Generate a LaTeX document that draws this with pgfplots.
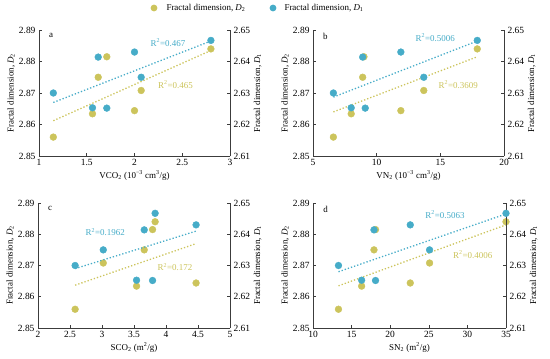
\documentclass[border=0pt]{standalone}
\usepackage{pgfplots}
\pgfplotsset{compat=1.18}
\usepackage{fontspec}
\setmainfont{Liberation Serif}
\definecolor{cY}{RGB}{204,196,92}
\definecolor{cB}{RGB}{70,172,200}
\definecolor{axg}{RGB}{60,60,60}
\tikzset{lab/.style={font=\fontsize{9}{10}\selectfont}}
\pgfplotsset{
  base/.style={
    scale only axis, width=191bp, height=126bp, anchor=north west,
    tick align=inside, major tick length=3bp,
    every tick/.style={axg, line width=0.6pt},
    axis line style={axg, line width=0.7pt},
    tick label style={font=\fontsize{9.5}{10}\selectfont},
    label style={font=\fontsize{9}{10}\selectfont},
    /pgf/number format/assume math mode=true,
    ymin=2.85, ymax=2.89, ytick={2.85,2.86,2.87,2.88,2.89},
    yticklabel style={/pgf/number format/.cd, fixed, precision=2, fixed zerofill},
    clip=false,
  },
  leftax/.style={base, axis y line*=left, axis x line*=bottom,
    ylabel={Fractal dimension, \textit{D}\textsubscript{2}},
    ylabel shift=-3bp,
    xlabel style={yshift=2bp},
  },
  rightax/.style={base, axis y line*=right, axis x line=none,
    ymin=2.61, ymax=2.65, ytick={2.61,2.62,2.63,2.64,2.65},
    ylabel={Fractal dimension, \textit{D}\textsubscript{1}},
    ylabel shift=-3bp,
  },
  ptY/.style={only marks, color=cY, mark=*, mark size=3.4bp},
  ptB/.style={only marks, color=cB, mark=*, mark size=3.4bp},
  lnY/.style={no marks, cY, line width=1.3pt, dotted},
  lnB/.style={no marks, cB, line width=1.3pt, dotted},
}
\begin{document}
\begin{tikzpicture}
\path[use as bounding box] (0,0) rectangle (550bp,-359bp);
% legend
\fill[cY] (154bp,-8bp) circle (3.4bp);
\node[anchor=west, font=\fontsize{9}{10}\selectfont] at (163bp,-8bp) {Fractal dimension, \textit{D}\textsubscript{2}};
\fill[cB] (273bp,-8bp) circle (3.4bp);
\node[anchor=west, font=\fontsize{9}{10}\selectfont] at (281bp,-8bp) {Fractal dimension, \textit{D}\textsubscript{1}};

% ---------- panel a ----------
\begin{axis}[leftax, at={(39bp,-30bp)}, xmin=1, xmax=3, xtick={1,1.5,2,2.5,3},
  xlabel={VCO\textsubscript{2} (10\textsuperscript{−3} cm\textsuperscript{3}/g)}]
\addplot[lnY] coordinates {(1.15,2.8612) (2.8,2.8835)};
\addplot[ptY] coordinates {(1.15,2.856) (1.56,2.8634) (1.62,2.875) (1.71,2.8815) (2.0,2.8644) (2.07,2.8708) (2.8,2.884)};
\node[lab, text=cY] at (axis cs:2.43,2.8727) {R\textsuperscript{2}=0.465};
\node[lab, anchor=north west] at (rel axis cs:0.035,1.0) {a};
\end{axis}
\begin{axis}[rightax, at={(39bp,-30bp)}, xmin=1, xmax=3]
\addplot[lnB] coordinates {(1.15,2.6270) (2.8,2.6465)};
\addplot[ptB] coordinates {(1.15,2.630) (1.56,2.6253) (1.62,2.6414) (1.71,2.6252) (2.0,2.643) (2.07,2.635) (2.8,2.6467)};
\node[lab, text=cB] at (axis cs:2.35,2.6459) {R\textsuperscript{2}=0.467};
\end{axis}

% ---------- panel b ----------
\begin{axis}[leftax, at={(313bp,-30bp)}, xmin=5, xmax=20, xtick={5,10,15,20},
  xlabel={VN\textsubscript{2} (10\textsuperscript{−3} cm\textsuperscript{3}/g)}]
\addplot[lnY] coordinates {(6.6,2.8640) (17.9,2.8815)};
\addplot[ptY] coordinates {(6.6,2.856) (8.0,2.8634) (8.9,2.875) (9.0,2.8815) (11.9,2.8644) (13.7,2.8708) (17.9,2.884)};
\node[lab, text=cY] at (axis cs:16.4,2.8726) {R\textsuperscript{2}=0.3609};
\node[lab, anchor=north west] at (rel axis cs:0.035,1.0) {b};
\end{axis}
\begin{axis}[rightax, at={(313bp,-30bp)}, xmin=5, xmax=20]
\addplot[lnB] coordinates {(6.6,2.6287) (17.9,2.6465)};
\addplot[ptB] coordinates {(6.6,2.630) (8.0,2.6253) (8.9,2.6414) (9.1,2.6252) (11.9,2.643) (13.7,2.635) (17.9,2.6467)};
\node[lab, text=cB] at (axis cs:14.6,2.6475) {R\textsuperscript{2}=0.5006};
\end{axis}

% ---------- panel c ----------
\begin{axis}[leftax, at={(38bp,-203bp)}, width=192bp, height=125bp, xmin=2, xmax=5, xtick={2,2.5,3,3.5,4,4.5,5},
  xlabel={SCO\textsubscript{2} (m\textsuperscript{2}/g)}]
\addplot[lnY] coordinates {(2.58,2.8637) (4.47,2.8770)};
\addplot[ptY] coordinates {(2.58,2.856) (3.02,2.8708) (3.54,2.8634) (3.66,2.875) (3.79,2.8815) (3.83,2.884) (4.47,2.8644)};
\node[lab, text=cY] at (axis cs:4.14,2.8695) {R\textsuperscript{2}=0.172};
\node[lab, anchor=north west] at (rel axis cs:0.035,1.0) {c};
\end{axis}
\begin{axis}[rightax, at={(38bp,-203bp)}, width=192bp, height=125bp, xmin=2, xmax=5]
\addplot[lnB] coordinates {(2.58,2.6290) (4.47,2.6410)};
\addplot[ptB] coordinates {(2.58,2.630) (3.02,2.635) (3.54,2.6253) (3.66,2.6414) (3.79,2.6252) (3.83,2.6467) (4.47,2.643)};
\node[lab, text=cB] at (axis cs:3.05,2.6407) {R\textsuperscript{2}=0.1962};
\end{axis}

% ---------- panel d ----------
\begin{axis}[leftax, at={(313bp,-203bp)}, width=193bp, height=125bp, xmin=10, xmax=35, xtick={10,15,20,25,30,35},
  xlabel={SN\textsubscript{2} (m\textsuperscript{2}/g)}]
\addplot[lnY] coordinates {(13.3,2.8635) (35,2.8830)};
\addplot[ptY] coordinates {(13.3,2.856) (16.3,2.8634) (17.9,2.875) (18.1,2.8815) (22.6,2.8644) (25.1,2.8708) (35,2.884)};
\node[lab, text=cY] at (axis cs:30.7,2.8734) {R\textsuperscript{2}=0.4006};
\node[lab, anchor=north west] at (rel axis cs:0.035,1.0) {d};
\end{axis}
\begin{axis}[rightax, at={(313bp,-203bp)}, width=193bp, height=125bp, xmin=10, xmax=35]
\addplot[lnB] coordinates {(13.3,2.6280) (35,2.6465)};
\addplot[ptB] coordinates {(13.3,2.630) (16.3,2.6253) (17.9,2.6414) (18.1,2.6252) (22.6,2.643) (25.1,2.635) (35,2.6467)};
\node[lab, text=cB] at (axis cs:27.1,2.6462) {R\textsuperscript{2}=0.5063};
\end{axis}
\end{tikzpicture}
\end{document}
